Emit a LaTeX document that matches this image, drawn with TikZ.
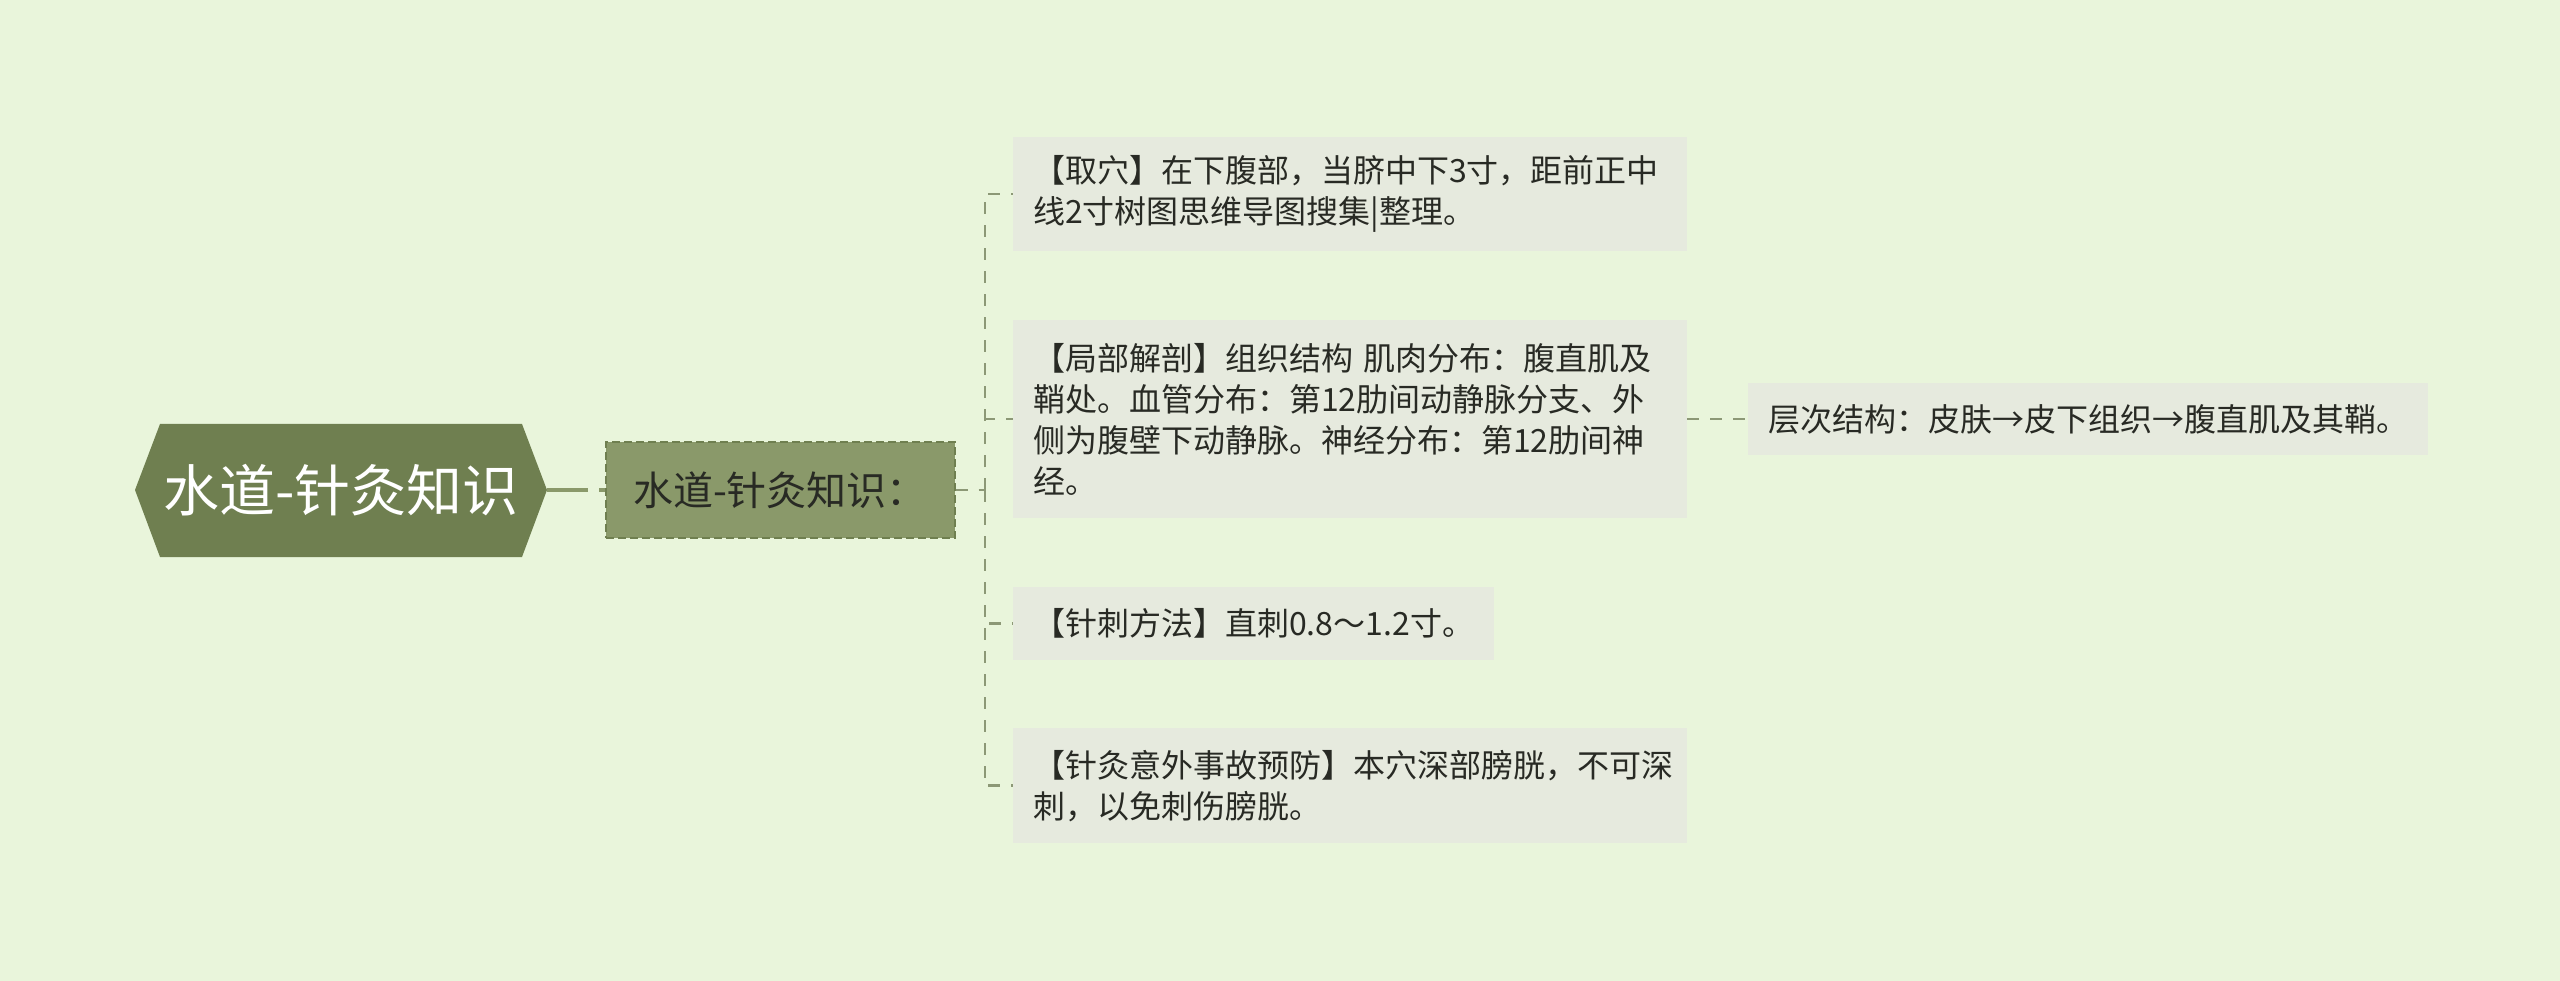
\documentclass[tikz,border=0pt]{standalone}
\usepackage{fontspec}
\usepackage{xcolor}
\usepackage{tikz}
\usetikzlibrary{positioning,calc}
\newfontfamily\zhfont{Noto Sans CJK SC}

\definecolor{bgcol}{RGB}{233,245,219}
\definecolor{rootcol}{RGB}{111,127,80}
\definecolor{subcol}{RGB}{138,153,106}
\definecolor{leafcol}{RGB}{230,234,222}
\definecolor{linkcol}{RGB}{140,152,118}
\definecolor{textcol}{RGB}{40,42,36}

\begin{document}
\begin{tikzpicture}[x=1pt, y=-1pt,
    leaf/.style={fill=leafcol, text=textcol, font=\zhfont\fontsize{32}{41}\selectfont,
        inner xsep=20pt, inner ysep=0pt, anchor=north west, align=left},
    link/.style={draw=linkcol, line width=2.5pt, dash pattern=on 12pt off 11pt}]
    % Background
    \fill[bgcol] (0,0) rectangle (2560,981);
    \useasboundingbox (0,0) rectangle (2560,981);

    % Root
    \fill[rootcol] (135,490) -- (160,424) -- (522,424) -- (547,490) -- (522,557) -- (160,557) -- cycle;
    \node[text=white, font=\zhfont\fontsize{56}{60}\selectfont, minimum width=412pt, minimum height=133pt] (root) at (341,490) {水道-针灸知识};

    % Sub topic
    \node[fill=subcol, draw=rootcol, line width=2pt, dash pattern=on 8pt off 4pt, text=textcol,
        font=\zhfont\fontsize{40}{44}\selectfont, minimum width=349pt, minimum height=96pt] (sub) at (780,490) {水道-针灸知识：};
    \draw[draw=subcol, line width=4.5pt, dash pattern=on 41pt off 11pt] (root.east) -- (sub.west);

    % Leaves
    \node[leaf, text width=634pt, minimum height=114pt] (qu) at (1013,137) {【取穴】在下腹部，当脐中下3寸，距前正中\\线2寸树图思维导图搜集|整理。};
    \node[leaf, text width=634pt, minimum height=198pt] (jp) at (1013,320) {【局部解剖】组织结构 肌肉分布：腹直肌及\\鞘处。血管分布：第12肋间动静脉分支、外\\侧为腹壁下动静脉。神经分布：第12肋间神\\经。};
    \node[leaf, minimum height=73pt] (zc) at (1013,587) {【针刺方法】直刺0.8～1.2寸。};
    \node[leaf, text width=634pt, minimum height=115pt] (yf) at (1013,728) {【针灸意外事故预防】本穴深部膀胱，不可深\\刺，以免刺伤膀胱。};
    \node[leaf, minimum height=72pt] (cc) at (1748,383) {层次结构：皮肤→皮下组织→腹直肌及其鞘。};

    % Connectors
    \coordinate (hub) at (985,490);
    \draw[link] (sub.east) -- (hub);
    \foreach \n in {qu,jp,zc,yf} {
        \draw[link] (hub) |- (\n.west);
    }
    \draw[link] (jp.east) -- (cc.west);
\end{tikzpicture}
\end{document}
